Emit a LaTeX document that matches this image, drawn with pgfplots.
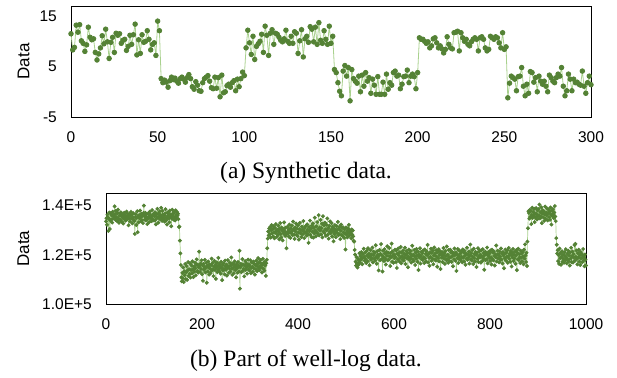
\documentclass[border=0pt]{standalone}
\usepackage{fontspec}
\setmainfont{Liberation Serif}
\newfontfamily\arial{Liberation Sans}
\usepackage{pgfplots}
\usepackage{pgfplotstable}
\pgfplotsset{compat=1.18}
\definecolor{markgreen}{HTML}{548235}
\definecolor{linegreen}{HTML}{A9D18E}

\pgfplotstableread[header=false]{
11.5
8.3
8.8
13.2
11.8
13.3
10.1
9.6
8.0
9.3
12.8
10.8
10.3
10.5
7.8
6.3
7.5
8.7
11.1
9.5
12.4
9.9
6.6
9.8
10.8
7.8
11.6
11.2
11.5
9.6
10.2
10.4
8.2
9.0
11.2
9.4
11.3
13.4
7.3
10.3
7.6
11.3
9.8
10.0
12.1
10.4
8.3
9.4
9.7
7.2
14.0
12.1
2.6
1.8
2.3
1.9
0.9
2.2
2.9
2.4
2.7
2.1
1.7
2.6
2.9
2.5
1.9
2.8
3.4
2.6
1.0
0.5
2.0
1.3
0.2
0.1
1.8
2.6
2.9
3.2
2.1
0.8
0.6
2.9
0.7
2.8
-1.0
3.3
-0.2
0.0
1.2
1.5
0.9
1.8
2.2
0.2
2.5
1.0
2.6
3.9
3.2
8.7
12.2
9.7
7.4
11.0
6.4
9.0
9.5
10.0
11.4
7.8
13.0
11.2
7.2
11.6
12.3
9.4
11.6
11.4
10.8
10.2
9.9
10.5
12.2
10.0
9.6
11.0
9.6
11.9
11.6
7.6
10.1
12.3
6.9
10.5
11.0
9.8
12.9
12.4
9.9
12.8
9.4
13.7
10.2
9.6
12.1
10.4
9.4
13.0
9.6
11.0
4.4
3.8
1.8
0.1
-0.8
4.1
5.2
3.1
4.8
-1.8
4.4
2.6
2.1
1.7
3.1
0.0
3.3
1.1
3.8
2.1
2.8
-0.3
2.5
1.3
-0.5
3.0
-0.5
-0.5
1.9
-0.5
3.5
0.5
1.8
1.3
3.8
4.1
3.1
3.3
0.6
1.5
3.0
3.1
4.3
1.8
3.1
3.5
3.0
0.6
3.8
10.7
10.4
10.4
10.0
9.6
9.9
8.7
9.1
10.5
10.7
9.7
8.7
9.1
8.5
7.7
8.4
10.9
9.4
8.7
8.5
11.7
11.8
12.0
8.1
11.7
10.7
10.0
10.4
9.4
9.1
9.9
10.4
10.7
10.4
8.1
10.7
10.9
10.4
8.7
8.1
8.4
11.0
10.7
10.4
10.9
10.7
9.7
8.7
11.7
8.4
8.9
-1.2
1.7
3.1
2.8
2.5
0.2
3.0
3.1
4.8
1.1
-0.8
1.5
-0.3
4.0
3.8
1.9
2.8
0.0
3.1
2.1
1.5
2.1
1.1
0.0
3.3
2.8
2.1
1.8
2.8
3.5
3.1
4.8
1.1
-0.8
0.2
3.5
2.5
0.2
2.5
1.8
1.9
1.5
1.3
4.1
1.1
-0.3
1.8
3.1
1.4
}\synth

\pgfplotstableread[header=false]{
133.5
134.8
132.1
136.2
135.0
129.6
134.6
137.1
130.4
133.9
136.8
134.2
135.9
133.0
137.4
136.1
134.7
135.3
139.6
136.4
134.1
137.8
135.2
133.6
136.9
138.2
134.5
132.9
135.8
136.6
134.0
137.2
135.6
133.3
136.3
134.9
132.6
135.4
137.0
134.4
136.0
133.8
135.1
137.5
134.3
136.7
135.7
131.9
134.8
136.5
133.4
135.9
137.3
134.6
136.2
132.7
135.0
136.8
134.1
133.7
128.4
135.3
136.4
132.0
134.9
137.6
129.1
135.5
133.1
136.0
134.7
137.9
135.2
133.5
136.6
134.0
135.8
132.8
136.9
139.9
135.6
134.2
137.0
133.9
136.3
135.1
132.4
134.6
136.7
135.4
133.2
137.4
134.8
136.1
135.0
133.6
138.1
134.4
135.9
136.5
133.8
135.7
137.2
134.1
132.3
136.4
135.3
138.6
134.9
133.0
136.8
135.5
137.6
134.3
136.0
139.0
135.1
133.7
137.7
136.2
134.5
135.9
133.4
136.6
138.4
135.0
134.0
132.2
137.1
135.8
136.9
134.7
133.1
137.9
135.4
136.3
131.5
134.6
138.2
135.6
136.8
134.2
137.4
135.1
133.9
138.0
136.1
134.8
137.3
135.9
136.6
134.4
131.2
131.4
125.7
120.5
115.8
110.8
109.2
112.6
110.4
114.8
108.9
113.3
111.7
116.2
110.1
112.9
115.4
109.8
113.6
117.0
111.4
114.1
112.2
116.5
110.7
113.8
115.6
112.4
117.3
114.0
110.9
115.2
113.1
116.8
114.5
111.6
115.9
118.1
113.4
116.0
112.7
114.9
121.2
115.3
113.0
116.4
114.2
117.7
112.1
115.8
109.4
116.3
113.9
115.0
117.9
112.8
114.6
116.7
108.6
115.5
113.2
117.2
114.8
111.9
116.1
114.3
112.5
115.7
118.4
113.6
116.6
114.0
111.3
115.1
117.5
113.8
115.9
110.2
114.7
116.9
112.9
115.4
118.7
114.1
113.3
116.2
115.0
112.3
117.1
114.6
109.7
115.8
113.5
116.5
114.2
112.0
117.6
115.3
113.9
116.0
111.5
114.9
117.8
115.2
112.6
114.4
116.7
113.1
115.6
118.9
114.3
111.8
116.4
114.7
112.4
115.9
117.3
113.7
115.1
110.8
116.2
114.5
112.7
117.0
115.4
113.2
121.6
106.2
114.8
116.3
112.9
115.7
118.2
113.4
116.0
114.2
111.2
115.6
117.4
113.8
116.6
114.9
112.3
115.3
118.0
114.0
116.1
113.6
115.2
117.7
112.5
114.7
116.8
115.1
113.0
117.2
114.4
116.3
111.9
115.8
114.1
117.5
115.5
113.3
116.4
118.6
114.6
116.9
113.7
115.4
117.8
114.8
116.2
112.8
115.9
118.3
114.3
116.7
113.5
117.1
115.6
111.4
116.5
117.9
122.6
126.5
129.4
127.8
130.6
128.3
131.2
126.9
129.9
132.0
128.6
130.3
127.4
131.5
129.1
126.6
130.8
128.9
132.4
129.6
127.2
130.1
128.0
131.7
129.3
126.2
130.5
132.8
128.4
127.0
131.0
129.8
125.8
130.4
128.7
133.1
129.5
127.6
130.9
128.1
122.6
129.0
131.3
128.5
130.0
127.3
132.2
129.2
126.8
130.7
128.8
131.8
129.7
127.9
133.4
130.2
128.2
126.4
131.1
129.4
132.6
128.0
130.6
127.5
131.9
129.0
126.1
130.3
132.9
128.7
129.9
127.1
131.4
130.0
128.3
133.6
129.5
126.7
130.8
128.9
131.6
129.2
127.7
132.3
130.1
128.4
124.8
131.2
129.6
133.8
128.0
130.5
127.2
131.8
129.3
132.7
126.9
130.9
128.6
135.0
129.8
127.4
131.5
129.1
133.2
128.5
130.4
136.0
127.8
131.0
129.7
134.1
128.2
130.7
132.5
127.0
135.6
129.4
131.9
128.8
133.0
130.3
127.6
132.1
129.9
134.7
128.1
130.8
126.5
131.7
129.2
133.5
128.6
130.1
132.8
127.3
131.3
129.5
125.4
130.6
128.4
132.0
129.8
127.1
131.6
128.9
130.2
133.3
127.9
130.5
128.3
131.4
126.3
129.7
132.2
128.0
130.9
127.5
131.1
129.0
126.8
130.4
128.6
122.1
131.0
128.2
129.6
127.0
130.7
128.9
132.1
127.7
130.0
128.4
129.3
126.6
130.2
128.1
129.8
127.4
125.6
125.3
121.9
120.0
117.2
115.6
119.0
116.4
114.8
118.3
115.9
117.7
120.6
116.8
119.4
117.9
121.0
118.5
116.1
120.2
118.8
122.4
119.1
117.5
120.9
118.2
116.6
121.5
119.7
117.3
122.6
118.9
120.4
115.7
119.3
121.8
117.9
120.1
118.6
122.9
116.9
119.9
121.2
118.4
120.7
117.6
123.8
119.2
116.3
121.4
118.7
120.0
113.6
119.6
121.9
117.8
120.3
124.3
118.1
119.8
113.2
121.6
119.0
117.4
122.2
120.5
118.3
116.0
121.1
119.5
123.4
117.7
120.8
118.0
122.7
119.3
115.4
120.6
118.9
124.5
117.1
121.3
119.7
116.7
120.2
118.5
122.0
119.1
117.0
121.7
114.6
120.4
118.2
122.5
119.8
117.3
121.0
118.7
123.1
116.5
120.9
119.4
118.0
121.8
117.6
120.3
118.8
122.8
116.2
119.9
121.4
118.4
120.7
114.9
119.2
122.1
117.9
120.5
118.6
121.5
116.8
119.7
123.6
118.1
120.0
117.4
121.9
119.3
115.8
120.8
118.3
122.3
119.6
117.1
121.2
113.8
120.1
118.9
122.6
116.4
119.5
121.1
118.2
120.6
117.8
121.7
119.0
116.6
122.1
118.5
120.4
117.2
121.3
119.8
124.0
116.9
120.2
118.7
115.5
121.0
119.1
122.4
117.5
120.7
118.3
121.6
116.1
119.6
122.9
118.0
120.5
117.6
121.8
119.2
115.1
120.9
118.6
122.2
117.3
119.9
121.4
114.2
120.3
118.8
121.1
117.0
119.7
122.7
118.4
120.6
116.3
121.5
119.4
117.8
123.3
118.1
120.0
116.7
121.9
119.0
117.4
122.0
118.9
120.8
117.1
121.2
119.5
115.3
120.7
118.2
122.5
119.8
117.5
121.0
113.4
120.1
118.6
122.3
116.6
119.3
121.7
118.0
120.4
117.7
121.4
119.1
116.9
122.1
118.7
120.9
117.2
121.6
119.6
115.9
120.5
118.4
122.8
117.9
120.2
118.8
121.3
116.4
119.7
124.1
118.1
120.6
117.6
121.9
119.2
116.2
122.4
118.6
120.3
117.3
121.1
119.9
115.0
120.8
118.3
122.6
117.0
119.4
121.5
118.9
120.0
116.8
121.8
119.3
117.5
122.2
118.5
120.7
113.9
119.8
121.2
117.8
120.4
118.1
122.9
116.5
119.6
121.0
118.7
120.5
117.4
121.7
119.0
116.0
122.0
118.2
120.9
117.7
121.4
119.5
115.6
120.2
118.9
123.7
117.2
119.9
121.6
118.4
120.1
116.9
121.3
119.2
117.9
122.5
118.0
120.6
116.4
121.1
119.7
114.5
120.3
118.6
122.1
117.6
120.8
119.1
121.8
116.7
119.4
122.7
118.3
120.4
117.1
121.5
119.8
115.2
120.9
118.8
122.3
117.4
120.0
118.5
121.2
116.3
119.6
121.9
113.7
120.7
118.1
122.4
117.8
120.2
119.0
116.6
121.6
118.7
120.5
117.3
121.0
119.3
116.1
122.0
118.4
124.2
119.7
117.0
120.8
115.4
125.3
130.7
137.6
136.9
134.6
138.2
135.3
137.7
132.4
136.1
139.0
134.9
137.3
135.8
138.6
133.2
136.7
135.0
138.9
136.4
134.3
137.9
135.6
138.4
136.0
140.3
134.7
137.2
135.4
139.2
132.8
136.6
138.0
135.1
137.6
133.7
136.3
139.5
134.5
137.0
135.9
138.7
133.9
136.8
138.3
135.2
137.4
134.1
139.1
136.2
132.2
137.8
135.7
138.5
136.5
134.8
137.1
139.7
135.5
133.6
126.7
124.0
120.5
121.8
117.4
119.9
116.3
122.5
118.6
120.7
115.9
119.2
121.4
117.1
120.0
118.2
116.7
121.0
119.5
117.8
122.2
118.9
116.5
120.4
118.0
121.6
117.3
119.7
115.6
120.9
118.4
122.8
117.0
119.4
121.3
116.8
120.2
118.7
123.9
117.5
124.4
119.1
121.7
118.3
116.1
120.6
118.8
122.0
117.2
119.8
115.8
121.1
118.5
120.3
116.9
119.6
122.3
117.7
119.0
115.3
120.1
117.9
115.6
}\welllog

\pgfplotsset{
  myaxis/.style={
    scale only axis, anchor=south west, clip=false,
    axis line style={line width=0.9pt, black},
    tick style={draw=none},
    /pgf/number format/assume math mode=true,
    /pgf/number format/1000 sep={},
    tick label style={font=\arial\fontsize{15.5}{18}\selectfont},
    yticklabel style={anchor=east, inner sep=0pt, xshift=-14pt},
    xticklabel style={anchor=north, inner sep=0pt, yshift=-14pt},
    ylabel={Data},
    label style={font=\arial\fontsize{17}{20}\selectfont},
  }
}

\begin{document}
\begin{tikzpicture}
\useasboundingbox (0pt,0pt) rectangle (617pt,377pt);
\begin{axis}[myaxis,
  at={(71pt,260pt)}, width=520pt, height=111pt,
  xmin=0, xmax=300, ymin=-5, ymax=17,
  xtick={0,50,100,150,200,250,300},
  ytick={-5,5,15},
  ylabel style={at={(axis description cs:-0.0913,0.5)}, anchor=center},
]
\addplot[color=linegreen, line width=0.8pt, mark=*, mark size=2.3pt,
  mark options={fill=markgreen, draw=markgreen}]
  table[x expr=\coordindex, y index=0] {\synth};
\end{axis}
\begin{axis}[myaxis,
  at={(106pt,73pt)}, width=480pt, height=111pt,
  xmin=0, xmax=1000, ymin=100, ymax=145,
  xtick={0,200,400,600,800,1000},
  ytick={100,120,140},
  yticklabels={1.0E+5,1.2E+5,1.4E+5},
  ylabel style={at={(axis description cs:-0.1719,0.5)}, anchor=center},
]
\addplot[color=linegreen, line width=0.7pt, mark=*, mark size=1.6pt,
  mark options={fill=markgreen, draw=markgreen}]
  table[x expr=\coordindex, y index=0] {\welllog};
\end{axis}
\node[anchor=base, font=\fontsize{23.5}{28}\selectfont] at (306pt,198pt) {(a) Synthetic data.};
\node[anchor=base, font=\fontsize{23.5}{28}\selectfont] at (306pt,11pt) {(b) Part of well-log data.};
\end{tikzpicture}
\end{document}
